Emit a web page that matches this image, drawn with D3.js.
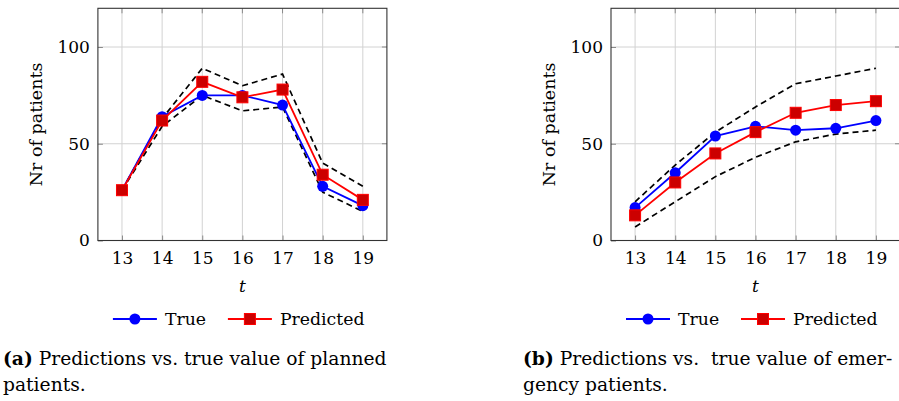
<!DOCTYPE html>
<html>
<head>
<meta charset="utf-8">
<script src="https://cdn.jsdelivr.net/npm/d3@7"></script>
<style>
  html, body { margin: 0; padding: 0; background: #fff; }
  svg { display: block; }
  svg text { font-family: "DejaVu Serif", serif !important; fill: #000; white-space: pre; }
</style>
</head>
<body>
<svg id="fig" width="899" height="401"></svg>
<script>
// Hours of the day on the x axis
const hours = [13, 14, 15, 16, 17, 18, 19];
const yTicks = [0, 50, 100];

// (a) planned patients
const plannedTrue  = [26, 64, 75, 75, 70, 28, 18];
const plannedPred  = [26, 62, 82, 74, 78, 34, 21];
const plannedUpper = [26, 63, 89, 80, 86, 40, 28];
const plannedLower = [26, 59, 75, 67, 69, 25, 15];

// (b) emergency patients
const emergTrue  = [17, 35, 54, 59, 57, 58, 62];
const emergPred  = [13, 30, 45, 56, 66, 70, 72];
const emergUpper = [20, 39, 56, 69, 81, 85, 89];
const emergLower = [7, 20, 33, 43, 51, 55, 57];

const legendLabels = ["True", "Predicted"];
const captionA = ["Predictions vs. true value of planned", "patients."];
const captionB = ["Predictions vs.  true value of emer-", "gency patients."];

const svg = d3.select("#fig");
const BLUE = "#0000ff", RED = "#ff0000", RED_FILL = "#cc0000";
const FS = 17;

function panel(left, data) {
  const g = svg.append("g");
  const x = d3.scaleLinear().domain([12.4, 19.6]).range([left, left + 289]);
  const y = d3.scaleLinear().domain([0, 120]).range([240.5, 8.3]);
  const [x0, x1] = x.range();
  const [yb, yt] = y.range();

  // grid
  g.append("g").selectAll("line").data(hours).join("line")
    .attr("x1", d => x(d)).attr("x2", d => x(d))
    .attr("y1", yt).attr("y2", yb)
    .attr("stroke", "#d2d2d2").attr("stroke-width", 1);
  g.append("g").selectAll("line").data(yTicks).join("line")
    .attr("x1", x0).attr("x2", x1)
    .attr("y1", d => y(d)).attr("y2", d => y(d))
    .attr("stroke", "#d2d2d2").attr("stroke-width", 1);

  // axes (ticks drawn inward, labels outside)
  const xAxis = d3.axisBottom(x).tickValues(hours).tickSize(-5).tickPadding(11)
    .tickFormat(d3.format("d"));
  const gx = g.append("g").attr("transform", `translate(0,${yb})`).call(xAxis);
  const yAxis = d3.axisLeft(y).tickValues(yTicks).tickSize(-5).tickPadding(8);
  const gy = g.append("g").attr("transform", `translate(${x0},0)`).call(yAxis);
  [gx, gy].forEach(a => {
    a.attr("font-family", null).attr("font-size", null);
    a.select(".domain").remove();
    a.selectAll(".tick line").attr("stroke", "#8a8a8a");
    a.selectAll(".tick text").attr("font-size", FS).attr("fill", "#000");
  });
  // top ticks for x and right ticks for y
  g.append("g").selectAll("line").data(hours).join("line")
    .attr("x1", d => x(d)).attr("x2", d => x(d)).attr("y1", yt).attr("y2", yt + 5)
    .attr("stroke", "#8a8a8a");
  g.append("g").selectAll("line").data(yTicks).join("line")
    .attr("x1", x1).attr("x2", x1 - 5).attr("y1", d => y(d)).attr("y2", d => y(d))
    .attr("stroke", "#8a8a8a");

  // frame
  g.append("rect").attr("x", x0).attr("y", yt).attr("width", x1 - x0).attr("height", yb - yt)
    .attr("fill", "none").attr("stroke", "#333").attr("stroke-width", 1.1);

  // axis titles
  g.append("text").attr("x", (x0 + x1) / 2).attr("y", 292).attr("text-anchor", "middle")
    .attr("font-size", FS).attr("font-style", "italic").text("t");
  g.append("text").attr("transform", `translate(${x0 - 62},${(yt + yb) / 2}) rotate(-90)`)
    .attr("text-anchor", "middle").attr("dominant-baseline", "central")
    .attr("font-size", 17.5).text("Nr of patients");

  const line = d3.line().x((d, i) => x(hours[i])).y(d => y(d));

  // confidence bounds
  [data.upper, data.lower].forEach(s => {
    g.append("path").datum(s).attr("d", line).attr("fill", "none")
      .attr("stroke", "#000").attr("stroke-width", 1.7).attr("stroke-dasharray", "6,4");
  });

  // true series
  g.append("path").datum(data.tru).attr("d", line).attr("fill", "none")
    .attr("stroke", BLUE).attr("stroke-width", 1.8);
  g.append("g").selectAll("circle").data(data.tru).join("circle")
    .attr("cx", (d, i) => x(hours[i])).attr("cy", d => y(d)).attr("r", 5.5)
    .attr("fill", BLUE);

  // predicted series
  g.append("path").datum(data.pred).attr("d", line).attr("fill", "none")
    .attr("stroke", RED).attr("stroke-width", 1.8);
  g.append("g").selectAll("rect").data(data.pred).join("rect")
    .attr("x", (d, i) => x(hours[i]) - 5.5).attr("y", d => y(d) - 5.5)
    .attr("width", 11).attr("height", 11)
    .attr("fill", RED_FILL).attr("stroke", RED).attr("stroke-width", 1);

  // legend
  const lg = g.append("g").attr("transform", `translate(${left + 15},319)`);
  lg.append("line").attr("x1", 0).attr("x2", 44).attr("stroke", BLUE).attr("stroke-width", 1.8);
  lg.append("circle").attr("cx", 22).attr("r", 5.5).attr("fill", BLUE);
  lg.append("text").attr("x", 52).attr("y", 6).attr("font-size", 17.3).text(legendLabels[0]);
  lg.append("line").attr("x1", 115).attr("x2", 159).attr("stroke", RED).attr("stroke-width", 1.8);
  lg.append("rect").attr("x", 137 - 5.5).attr("y", -5.5).attr("width", 11).attr("height", 11)
    .attr("fill", RED_FILL).attr("stroke", RED);
  lg.append("text").attr("x", 167).attr("y", 6).attr("font-size", 17.3).text(legendLabels[1]);
}

panel(97.9, { tru: plannedTrue, pred: plannedPred, upper: plannedUpper, lower: plannedLower });
panel(611, { tru: emergTrue, pred: emergPred, upper: emergUpper, lower: emergLower });

// subfigure captions
function caption(xPos, tag, lines) {
  const t1 = svg.append("text").attr("x", xPos).attr("y", 365).attr("font-size", 18.7);
  t1.append("tspan").attr("font-weight", "bold").text(tag);
  t1.append("tspan").text(" " + lines[0]);
  svg.append("text").attr("x", xPos).attr("y", 391).attr("font-size", 18.7).text(lines[1]);
}
caption(3, "(a)", captionA);
caption(523, "(b)", captionB);
</script>
</body>
</html>
